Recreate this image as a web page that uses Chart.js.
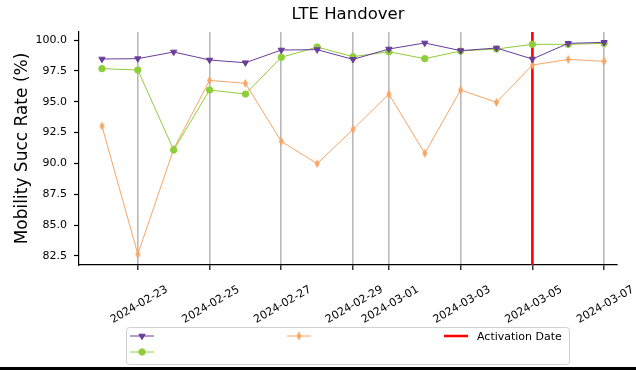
<!DOCTYPE html>
<html>
<head>
<meta charset="utf-8">
<script src="https://cdn.jsdelivr.net/npm/chart.js@4.4.1/dist/chart.umd.min.js"></script>
<style>
  html, body { margin: 0; padding: 0; background: #fff; }
  #wrap { width: 636px; height: 370px; position: relative; }
</style>
</head>
<body>
<div id="wrap"><canvas id="chart" width="636" height="370"></canvas></div>
<script>
// data
const dates = ['2024-02-22', '2024-02-23', '2024-02-24', '2024-02-25', '2024-02-26', '2024-02-27', '2024-02-28',
               '2024-02-29', '2024-03-01', '2024-03-02', '2024-03-03', '2024-03-04', '2024-03-05', '2024-03-06', '2024-03-07'];
const tickDates = ['2024-02-23', '2024-02-25', '2024-02-27', '2024-02-29', '2024-03-01', '2024-03-03', '2024-03-05', '2024-03-07'];
const activationDate = '2024-03-05';
const purpleValues = [98.46, 98.49, 99.03, 98.38, 98.16, 99.19, 99.22, 98.43, 99.27, 99.76, 99.14, 99.35, 98.46, 99.73, 99.81];
const greenValues  = [97.68, 97.57, 91.09, 95.95, 95.62, 98.60, 99.43, 98.65, 99.05, 98.49, 99.11, 99.27, 99.65, 99.65, 99.73];
const orangeValues = [93.03, 82.64, 91.17, 96.73, 96.49, 91.79, 89.98, 92.76, 95.62, 90.82, 95.95, 94.95, 97.97, 98.43, 98.27];
const seriesLabels = ['', '', ''];
const yTicks = [82.5, 85.0, 87.5, 90.0, 92.5, 95.0, 97.5, 100.0];
const yRange = [81.77, 100.65];
const xRange = [-0.64, 14.36];

const FONT = '"DejaVu Sans", sans-serif';
const PURPLE = '#6a3d9a';
const GREEN = '#8fce3a';
const ORANGE = '#f6a666';

function dayIndex(d) {
    return Math.round((Date.parse(d) - Date.parse(dates[0])) / 86400000);
}
function toPoints(values) {
    return values.map((v, i) => ({ x: dayIndex(dates[i]), y: v }));
}

// thin diamond marker like matplotlib 'd'
function thinDiamond(color) {
    const c = document.createElement('canvas');
    c.width = 7; c.height = 11;
    const g = c.getContext('2d');
    g.beginPath();
    g.moveTo(3.5, 1); g.lineTo(6, 5.5); g.lineTo(3.5, 10); g.lineTo(1, 5.5);
    g.closePath();
    g.fillStyle = color;
    g.fill();
    return c;
}
const diamondImg = thinDiamond(ORANGE);

const bgPlugin = {
    id: 'bg',
    beforeDraw(chart) {
        const ctx = chart.ctx;
        ctx.save();
        ctx.fillStyle = '#fff';
        ctx.fillRect(0, 0, chart.width, chart.height);
        ctx.restore();
    }
};

// title + legend + the dark strip at the bottom
const extrasPlugin = {
    id: 'extras',
    afterDraw(chart) {
        const ctx = chart.ctx;
        const area = chart.chartArea;
        ctx.save();
        ctx.fillStyle = '#000';
        ctx.font = '16.5px ' + FONT;
        ctx.textAlign = 'center';
        ctx.textBaseline = 'middle';
        ctx.fillText('LTE Handover', (area.left + area.right) / 2, 15);

        // legend box
        const bx = 126, by = 327, bw = 443, bh = 37;
        ctx.beginPath();
        ctx.roundRect(bx + 0.5, by + 0.5, bw, bh, 3);
        ctx.fillStyle = 'rgba(255,255,255,0.8)';
        ctx.fill();
        ctx.strokeStyle = '#d0d0d0';
        ctx.lineWidth = 1;
        ctx.stroke();

        const ds = chart.data.datasets;
        const items = [
            { d: ds[0], x: 130, y: 336 },
            { d: ds[2], x: 287, y: 336 },
            { d: ds[3], x: 444, y: 336 },
            { d: ds[1], x: 130, y: 352 }
        ];
        items.forEach(it => {
            ctx.beginPath();
            ctx.strokeStyle = it.d.borderColor;
            ctx.lineWidth = it.d.borderWidth;
            ctx.moveTo(it.x, it.y);
            ctx.lineTo(it.x + 24, it.y);
            ctx.stroke();
            if (it.d.pointRadius > 0) {
                ctx.fillStyle = it.d.pointBackgroundColor;
                ctx.strokeStyle = it.d.pointBorderColor;
                ctx.lineWidth = 1;
                Chart.helpers.drawPoint(ctx, {
                    pointStyle: it.d.pointStyle,
                    rotation: it.d.pointRotation || 0,
                    radius: it.d.pointRadius,
                    borderWidth: 1
                }, it.x + 12, it.y);
            }
        });
        ctx.fillStyle = '#000';
        ctx.font = '11px ' + FONT;
        ctx.textAlign = 'left';
        ctx.fillText('Activation Date', 477, 337);

        ctx.fillStyle = '#000';
        ctx.fillRect(0, 367, chart.width, 3);
        ctx.restore();
    }
};

const actX = dayIndex(activationDate);

new Chart(document.getElementById('chart'), {
    type: 'line',
    data: {
        datasets: [
            {
                label: seriesLabels[0],
                data: toPoints(purpleValues),
                borderColor: PURPLE,
                borderWidth: 1,
                pointStyle: 'triangle',
                pointRotation: 180,
                pointRadius: 3.6,
                pointBackgroundColor: PURPLE,
                pointBorderColor: PURPLE,
                pointBorderWidth: 1
            },
            {
                label: seriesLabels[1],
                data: toPoints(greenValues),
                borderColor: GREEN,
                borderWidth: 1,
                pointStyle: 'circle',
                pointRadius: 3.2,
                pointBackgroundColor: GREEN,
                pointBorderColor: GREEN,
                pointBorderWidth: 1
            },
            {
                label: seriesLabels[2],
                data: toPoints(orangeValues),
                borderColor: ORANGE,
                borderWidth: 1,
                pointStyle: diamondImg,
                pointRadius: 4,
                pointBackgroundColor: ORANGE,
                pointBorderColor: ORANGE,
                pointBorderWidth: 1
            },
            {
                label: 'Activation Date',
                data: [{ x: actX, y: yRange[0] }, { x: actX, y: yRange[1] }],
                borderColor: '#ff0000',
                borderWidth: 2.5,
                pointRadius: 0
            }
        ]
    },
    options: {
        responsive: false,
        animation: false,
        layout: { padding: { top: 32, right: 19, left: 0, bottom: 0 } },
        plugins: {
            legend: { display: false },
            title: { display: false },
            tooltip: { enabled: false }
        },
        scales: {
            x: {
                type: 'linear',
                min: xRange[0],
                max: xRange[1],
                afterBuildTicks: (scale) => {
                    scale.ticks = tickDates.map(d => ({ value: dayIndex(d) }));
                },
                afterFit: (scale) => { scale.height = 105; },
                ticks: {
                    autoSkip: false,
                    minRotation: 30,
                    maxRotation: 30,
                    labelOffset: 29,
                    padding: 13,
                    color: '#000',
                    font: { family: FONT, size: 11 },
                    callback: (v) => dates[Math.round(v)]
                },
                grid: {
                    display: true,
                    drawOnChartArea: true,
                    color: 'rgba(128,128,128,0.55)',
                    lineWidth: 1.6,
                    tickColor: '#000',
                    tickLength: 5,
                    tickWidth: 1.2
                },
                border: { display: true, color: '#000', width: 1.2 }
            },
            y: {
                min: yRange[0],
                max: yRange[1],
                afterBuildTicks: (scale) => {
                    scale.ticks = yTicks.map(v => ({ value: v }));
                },
                afterFit: (scale) => { scale.width = 79; },
                ticks: {
                    padding: 7,
                    color: '#000',
                    font: { family: FONT, size: 11 },
                    callback: (v) => Number(v).toFixed(1)
                },
                grid: {
                    drawOnChartArea: false,
                    drawTicks: true,
                    tickColor: '#000',
                    tickLength: 5,
                    tickWidth: 1.2
                },
                border: { display: true, color: '#000', width: 1.2 },
                title: {
                    display: true,
                    text: 'Mobility Succ Rate (%)',
                    color: '#000',
                    font: { family: FONT, size: 17 },
                    padding: { top: 12, bottom: 0 }
                }
            }
        }
    },
    plugins: [bgPlugin, extrasPlugin]
});
</script>
</body>
</html>
